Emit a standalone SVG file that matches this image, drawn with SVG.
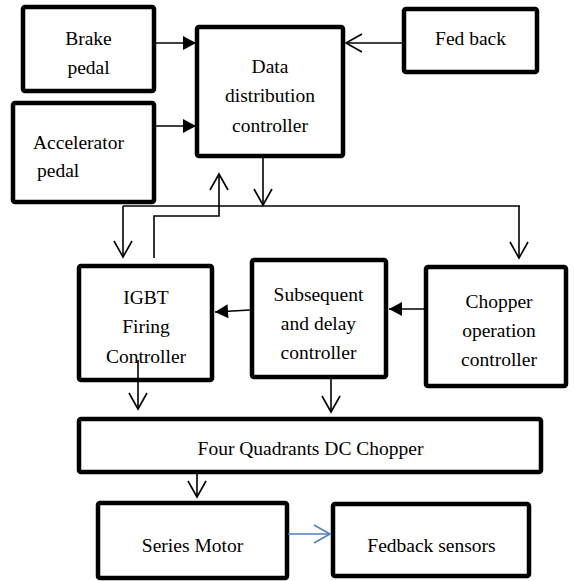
<svg xmlns="http://www.w3.org/2000/svg" width="574" height="581" viewBox="0 0 574 581">
<style>
.box{fill:#fff;stroke:#000;stroke-width:4.5;stroke-linejoin:round}
.t{font-family:"Liberation Serif","Times New Roman",serif;font-size:19.5px;fill:#000;text-anchor:middle}
.c{fill:none;stroke:#000;stroke-width:1.6}
.open{marker-end:url(#open)}
.fill{marker-end:url(#filled)}
</style>
<defs>
<marker id="open" markerUnits="userSpaceOnUse" viewBox="-18 -11 20 22" refX="0" refY="0" markerWidth="20" markerHeight="22" orient="auto" overflow="visible">
<path d="M-16,-9 L0,0 L-16,9" fill="none" stroke="#000" stroke-width="1.6"/>
</marker>
<marker id="openBlue" markerUnits="userSpaceOnUse" viewBox="-18 -11 20 22" refX="0" refY="0" markerWidth="20" markerHeight="22" orient="auto" overflow="visible">
<path d="M-16,-9 L0,0 L-16,9" fill="none" stroke="#4f81bd" stroke-width="1.6"/>
</marker>
<marker id="filled" markerUnits="userSpaceOnUse" viewBox="-14 -8 15 16" refX="0" refY="0" markerWidth="15" markerHeight="16" orient="auto" overflow="visible">
<path d="M-13,-7 L0,0 L-13,7 Z" fill="#000"/>
</marker>
</defs>
<g id="brake">
<rect class="box" x="23" y="7" width="131" height="84" rx="2"/>
<text class="t" x="88.5" y="45">Brake</text>
<text class="t" x="88.5" y="74">pedal</text>
</g>
<g id="accelerator">
<rect class="box" x="13" y="103" width="141" height="99" rx="2"/>
<text class="t" x="33" y="149" style="text-anchor:start">Accelerator</text>
<text class="t" x="37" y="177" style="text-anchor:start">pedal</text>
</g>
<g id="data">
<rect class="box" x="197" y="27" width="146" height="129" rx="2"/>
<text class="t" x="270" y="73">Data</text>
<text class="t" x="270" y="102">distribution</text>
<text class="t" x="270" y="132">controller</text>
</g>
<g id="fedback">
<rect class="box" x="404" y="9" width="133" height="63" rx="2"/>
<text class="t" x="470.5" y="45">Fed back</text>
</g>
<g id="igbt">
<rect class="box" x="79" y="266" width="133" height="114" rx="2"/>
<text class="t" x="146" y="304">IGBT</text>
<text class="t" x="146" y="333">Firing</text>
<text class="t" x="146" y="363">Controller</text>
</g>
<g id="subsequent">
<rect class="box" x="252" y="260" width="134" height="117" rx="2"/>
<text class="t" x="318.5" y="301">Subsequent</text>
<text class="t" x="318.5" y="330">and delay</text>
<text class="t" x="318.5" y="359">controller</text>
</g>
<g id="chopper">
<rect class="box" x="426" y="267" width="140" height="119" rx="2"/>
<text class="t" x="499" y="308">Chopper</text>
<text class="t" x="499" y="337">operation</text>
<text class="t" x="499" y="366">controller</text>
</g>
<g id="fourq">
<rect class="box" x="79" y="419" width="462" height="53" rx="2"/>
<text class="t" x="310.5" y="455">Four Quadrants DC Chopper</text>
</g>
<g id="motor">
<rect class="box" x="98" y="503" width="189" height="75" rx="2"/>
<text class="t" x="192.5" y="552">Series Motor</text>
</g>
<g id="sensors">
<rect class="box" x="333" y="504" width="196" height="72" rx="2"/>
<text class="t" x="431.5" y="552">Fedback sensors</text>
</g>
<g id="connectors">
<line class="c fill" x1="156" y1="43" x2="196" y2="43"/>
<line class="c fill" x1="156" y1="126" x2="196" y2="126"/>
<line class="c open" x1="402" y1="43" x2="346" y2="43"/>
<line class="c open" x1="263" y1="158" x2="263" y2="205"/>
<line class="c" x1="123" y1="206" x2="520" y2="206"/>
<line class="c open" x1="123" y1="206" x2="123" y2="257"/>
<line class="c open" x1="519" y1="206" x2="519" y2="258"/>
<polyline class="c open" points="154,258 154,216 219,216 219,174"/>
<line class="c fill" x1="250" y1="310" x2="215" y2="312"/>
<line class="c fill" x1="424" y1="309" x2="389" y2="309"/>
<line class="c open" x1="138" y1="360" x2="138" y2="409"/>
<line class="c open" x1="331" y1="379" x2="331" y2="412"/>
<line class="c open" x1="197" y1="474" x2="197" y2="497"/>
<line x1="288" y1="534" x2="330" y2="534" stroke="#4f81bd" stroke-width="1.6" marker-end="url(#openBlue)"/>
</g>
</svg>
